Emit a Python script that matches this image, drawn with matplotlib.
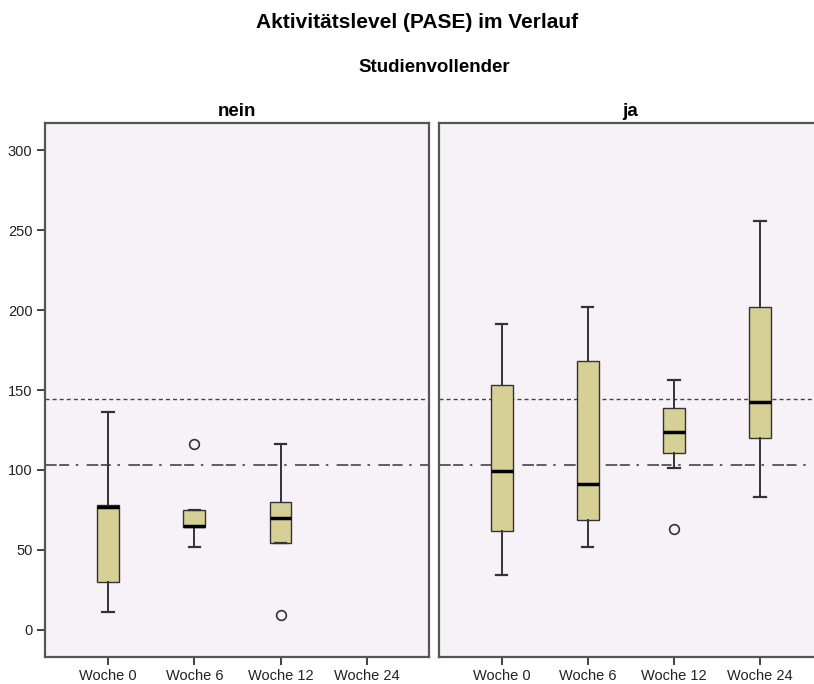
import matplotlib
matplotlib.use("Agg")
import matplotlib.pyplot as plt

# categories and box statistics
weeks = ["Woche 0", "Woche 6", "Woche 12", "Woche 24"]
panels = ["nein", "ja"]

nein_med = [77, 65, 70]
nein_q1 = [30, 64, 54]
nein_q3 = [78, 75, 80]
nein_lo = [11, 51.5, 54]
nein_hi = [136, 75, 116]
nein_fliers = [[], [116], [9]]

ja_med = [99.5, 91, 124, 142.5]
ja_q1 = [62, 68.5, 110.5, 120]
ja_q3 = [153, 168, 138.5, 202]
ja_lo = [34, 52, 101, 83]
ja_hi = [191, 202, 156, 256]
ja_fliers = [[], [], [63], []]

ref_dotted = 144.2
ref_dashdot = 103

plt.rcParams['font.family'] = ['Liberation Sans', 'DejaVu Sans']

box_fill = "#d6cf96"
bg = "#f7f2f7"
frame = "#555555"


def make_stats(med, q1, q3, lo, hi, fliers):
    stats = []
    for i in range(len(med)):
        stats.append(dict(med=med[i], q1=q1[i], q3=q3[i], whislo=lo[i],
                          whishi=hi[i], fliers=fliers[i]))
    return stats


fig = plt.figure(figsize=(8.14, 6.84), dpi=100)
ax1 = fig.add_axes([45 / 814, 27 / 684, 384 / 814, 534 / 684])
ax2 = fig.add_axes([439 / 814, 27 / 684, 383 / 814, 534 / 684])

data = [
    (ax1, make_stats(nein_med, nein_q1, nein_q3, nein_lo, nein_hi, nein_fliers)),
    (ax2, make_stats(ja_med, ja_q1, ja_q3, ja_lo, ja_hi, ja_fliers)),
]

for ax, stats in data:
    ax.set_facecolor(bg)
    pos = list(range(len(stats)))
    ax.bxp(stats, positions=pos, widths=0.25, patch_artist=True,
           boxprops=dict(facecolor=box_fill, edgecolor="#333333", linewidth=1),
           medianprops=dict(color="black", linewidth=2.5),
           whiskerprops=dict(color="#333333", linewidth=1.4),
           capprops=dict(color="#333333", linewidth=1.6),
           capwidths=0.13,
           flierprops=dict(marker="o", markerfacecolor="none",
                           markeredgecolor="#333333", markersize=7,
                           markeredgewidth=1.2))
    ax.axhline(ref_dotted, color="#444444", linewidth=1,
               linestyle=(0, (2.9, 2.2)), zorder=0.5)
    ax.axhline(ref_dashdot, color="#444444", linewidth=1.2,
               linestyle=(0, (7, 1.5, 6, 4, 1.5, 5)), zorder=0.5)
    ax.set_xlim(-0.73, 3.72)
    ax.set_ylim(-17, 317)
    ax.set_xticks(range(len(weeks)))
    ax.set_xticklabels(weeks, fontsize=10.5)
    for s in ax.spines.values():
        s.set_color(frame)
        s.set_linewidth(1.6)
    ax.tick_params(direction="out", length=6, width=1.3, color="#333333",
                   labelsize=10.5, labelcolor="#222222", pad=3)

ax1.set_yticks([0, 50, 100, 150, 200, 250, 300])
ax2.set_yticks([])

for ax, name in zip([ax1, ax2], panels):
    ax.set_title(name, fontsize=13.5, fontweight="bold", pad=5)

fig.text(417 / 814, 1 - 22 / 684, "Aktivitätslevel (PASE) im Verlauf",
         ha="center", va="center", fontsize=15, fontweight="bold")
fig.text(434 / 814, 1 - 68 / 684, "Studienvollender",
         ha="center", va="center", fontsize=13.5, fontweight="bold")

fig.savefig("out.png", dpi=100, facecolor="white")
